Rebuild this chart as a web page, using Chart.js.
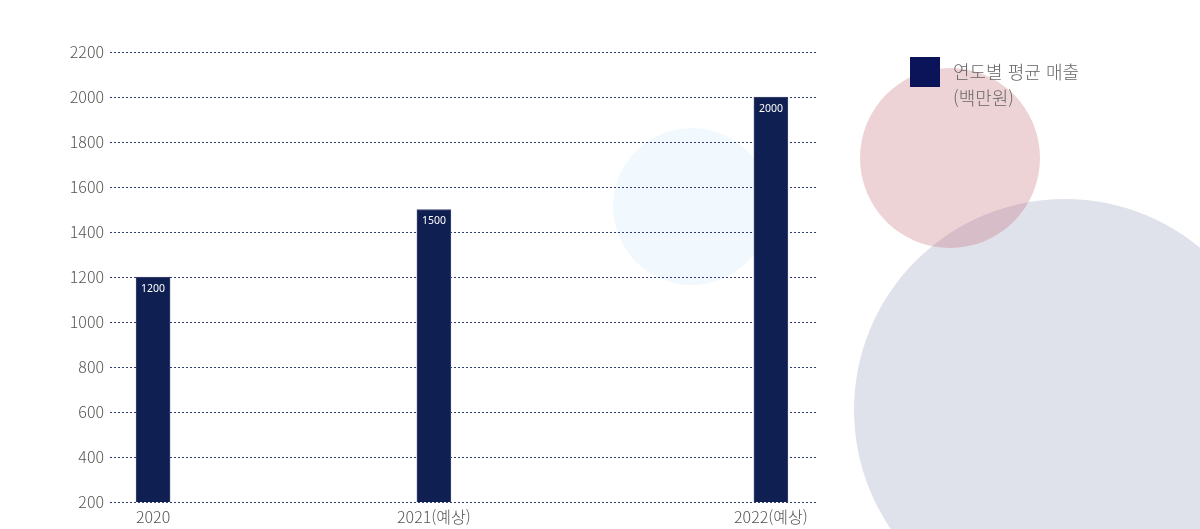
<!DOCTYPE html>
<html lang="ko">
<head>
    <meta charset="UTF-8">
    <title>연도별 평균 매출</title>
    <script src="https://cdn.jsdelivr.net/npm/chart.js"></script>
    <style>
        html, body { margin: 0; padding: 0; background: #fff; }
        #wrap { position: relative; width: 1200px; height: 529px; overflow: hidden; }
        .circle { position: absolute; border-radius: 50%; }
        #c-blue { left: 613px; top: 128px; width: 157px; height: 157px; background: #f1f9fe; }
        #c-grey { left: 854px; top: 199px; width: 422px; height: 422px; background: #e0e2eb; }
        #c-pink { left: 860px; top: 68px; width: 180px; height: 180px; background: rgba(188, 80, 92, 0.25); }
        #chart { position: absolute; left: 0; top: 0; }
        #legend { position: absolute; left: 910px; top: 57px; }
        #legend .box { position: absolute; left: 0; top: 0; width: 30px; height: 30px; background: #0b1458; }
        #legend .text {
            position: absolute; left: 43px; top: 1px; width: 220px;
            font-family: 'Noto Sans CJK KR', sans-serif; font-weight: 300;
            font-size: 18px; line-height: 26px; color: #666;
        }
    </style>
</head>
<body>
    <div id="wrap">
        <div class="circle" id="c-blue"></div>
        <div class="circle" id="c-grey"></div>
        <div class="circle" id="c-pink"></div>
        <canvas id="chart" width="1200" height="529"></canvas>
        <div id="legend">
            <div class="box"></div>
            <div class="text">연도별 평균 매출<br>(백만원)</div>
        </div>
    </div>

    <script>
        // data
        const years = ['2020', '2021(예상)', '2022(예상)'];
        const sales = [1200, 1500, 2000];
        const yMin = 200;
        const yMax = 2200;
        const yStep = 200;

        // layout: the bars sit in uneven places, so the x axis is split in equal slots
        const SLOT_COUNT = 12;
        const slotOf = [0, 5, 11];

        const labels = new Array(SLOT_COUNT).fill('');
        const values = new Array(SLOT_COUNT).fill(null);
        slotOf.forEach((s, i) => {
            labels[s] = years[i];
            values[s] = sales[i];
        });

        const FONT = "'Noto Sans CJK KR', 'Noto Sans', sans-serif";

        // dotted guide lines, a bit wider than the plot area
        const guideLines = {
            id: 'guideLines',
            beforeDatasetsDraw(chart) {
                const { ctx, chartArea, scales } = chart;
                ctx.save();
                ctx.strokeStyle = '#2d3a73';
                ctx.lineWidth = 1;
                ctx.setLineDash([2, 2]);
                scales.y.ticks.forEach(t => {
                    const py = Math.round(scales.y.getPixelForValue(t.value)) + 0.5;
                    ctx.beginPath();
                    ctx.moveTo(chartArea.left - 15, py);
                    ctx.lineTo(chartArea.right + 19, py);
                    ctx.stroke();
                });
                ctx.restore();
            }
        };

        // value printed inside the top of each bar
        const barValues = {
            id: 'barValues',
            afterDatasetsDraw(chart) {
                const { ctx } = chart;
                const meta = chart.getDatasetMeta(0);
                ctx.save();
                ctx.fillStyle = '#ffffff';
                ctx.font = "10.5px 'Noto Sans', sans-serif";
                ctx.textAlign = 'center';
                ctx.textBaseline = 'middle';
                meta.data.forEach((bar, i) => {
                    const v = values[i];
                    if (v === null) return;
                    ctx.fillText(String(v), bar.x, bar.y + 12);
                });
                ctx.restore();
            }
        };

        new Chart(document.getElementById('chart'), {
            type: 'bar',
            data: {
                labels: labels,
                datasets: [{
                    label: '연도별 평균 매출 (백만원)',
                    data: values,
                    backgroundColor: '#101f52',
                    borderColor: '#3c4673',
                    borderWidth: 1,
                    barThickness: 34
                }]
            },
            options: {
                responsive: false,
                animation: false,
                devicePixelRatio: 1,
                layout: { padding: { left: 0, right: 401, top: 52, bottom: 0 } },
                plugins: {
                    legend: { display: false },
                    tooltip: { enabled: false }
                },
                scales: {
                    x: {
                        type: 'category',
                        offset: true,
                        grid: { display: false },
                        border: { display: false },
                        ticks: {
                            autoSkip: false,
                            maxRotation: 0,
                            padding: -3,
                            color: '#555',
                            font: { family: FONT, size: 16, weight: '300' }
                        },
                        afterFit(scale) { scale.height = 27; }
                    },
                    y: {
                        min: yMin,
                        max: yMax,
                        grid: { display: false },
                        border: { display: false },
                        ticks: {
                            stepSize: yStep,
                            padding: 13,
                            color: '#555',
                            font: { family: FONT, size: 16, weight: '300' },
                            callback: v => String(v)
                        },
                        afterFit(scale) { scale.width = 125; }
                    }
                }
            },
            plugins: [guideLines, barValues]
        });
    </script>
</body>
</html>
